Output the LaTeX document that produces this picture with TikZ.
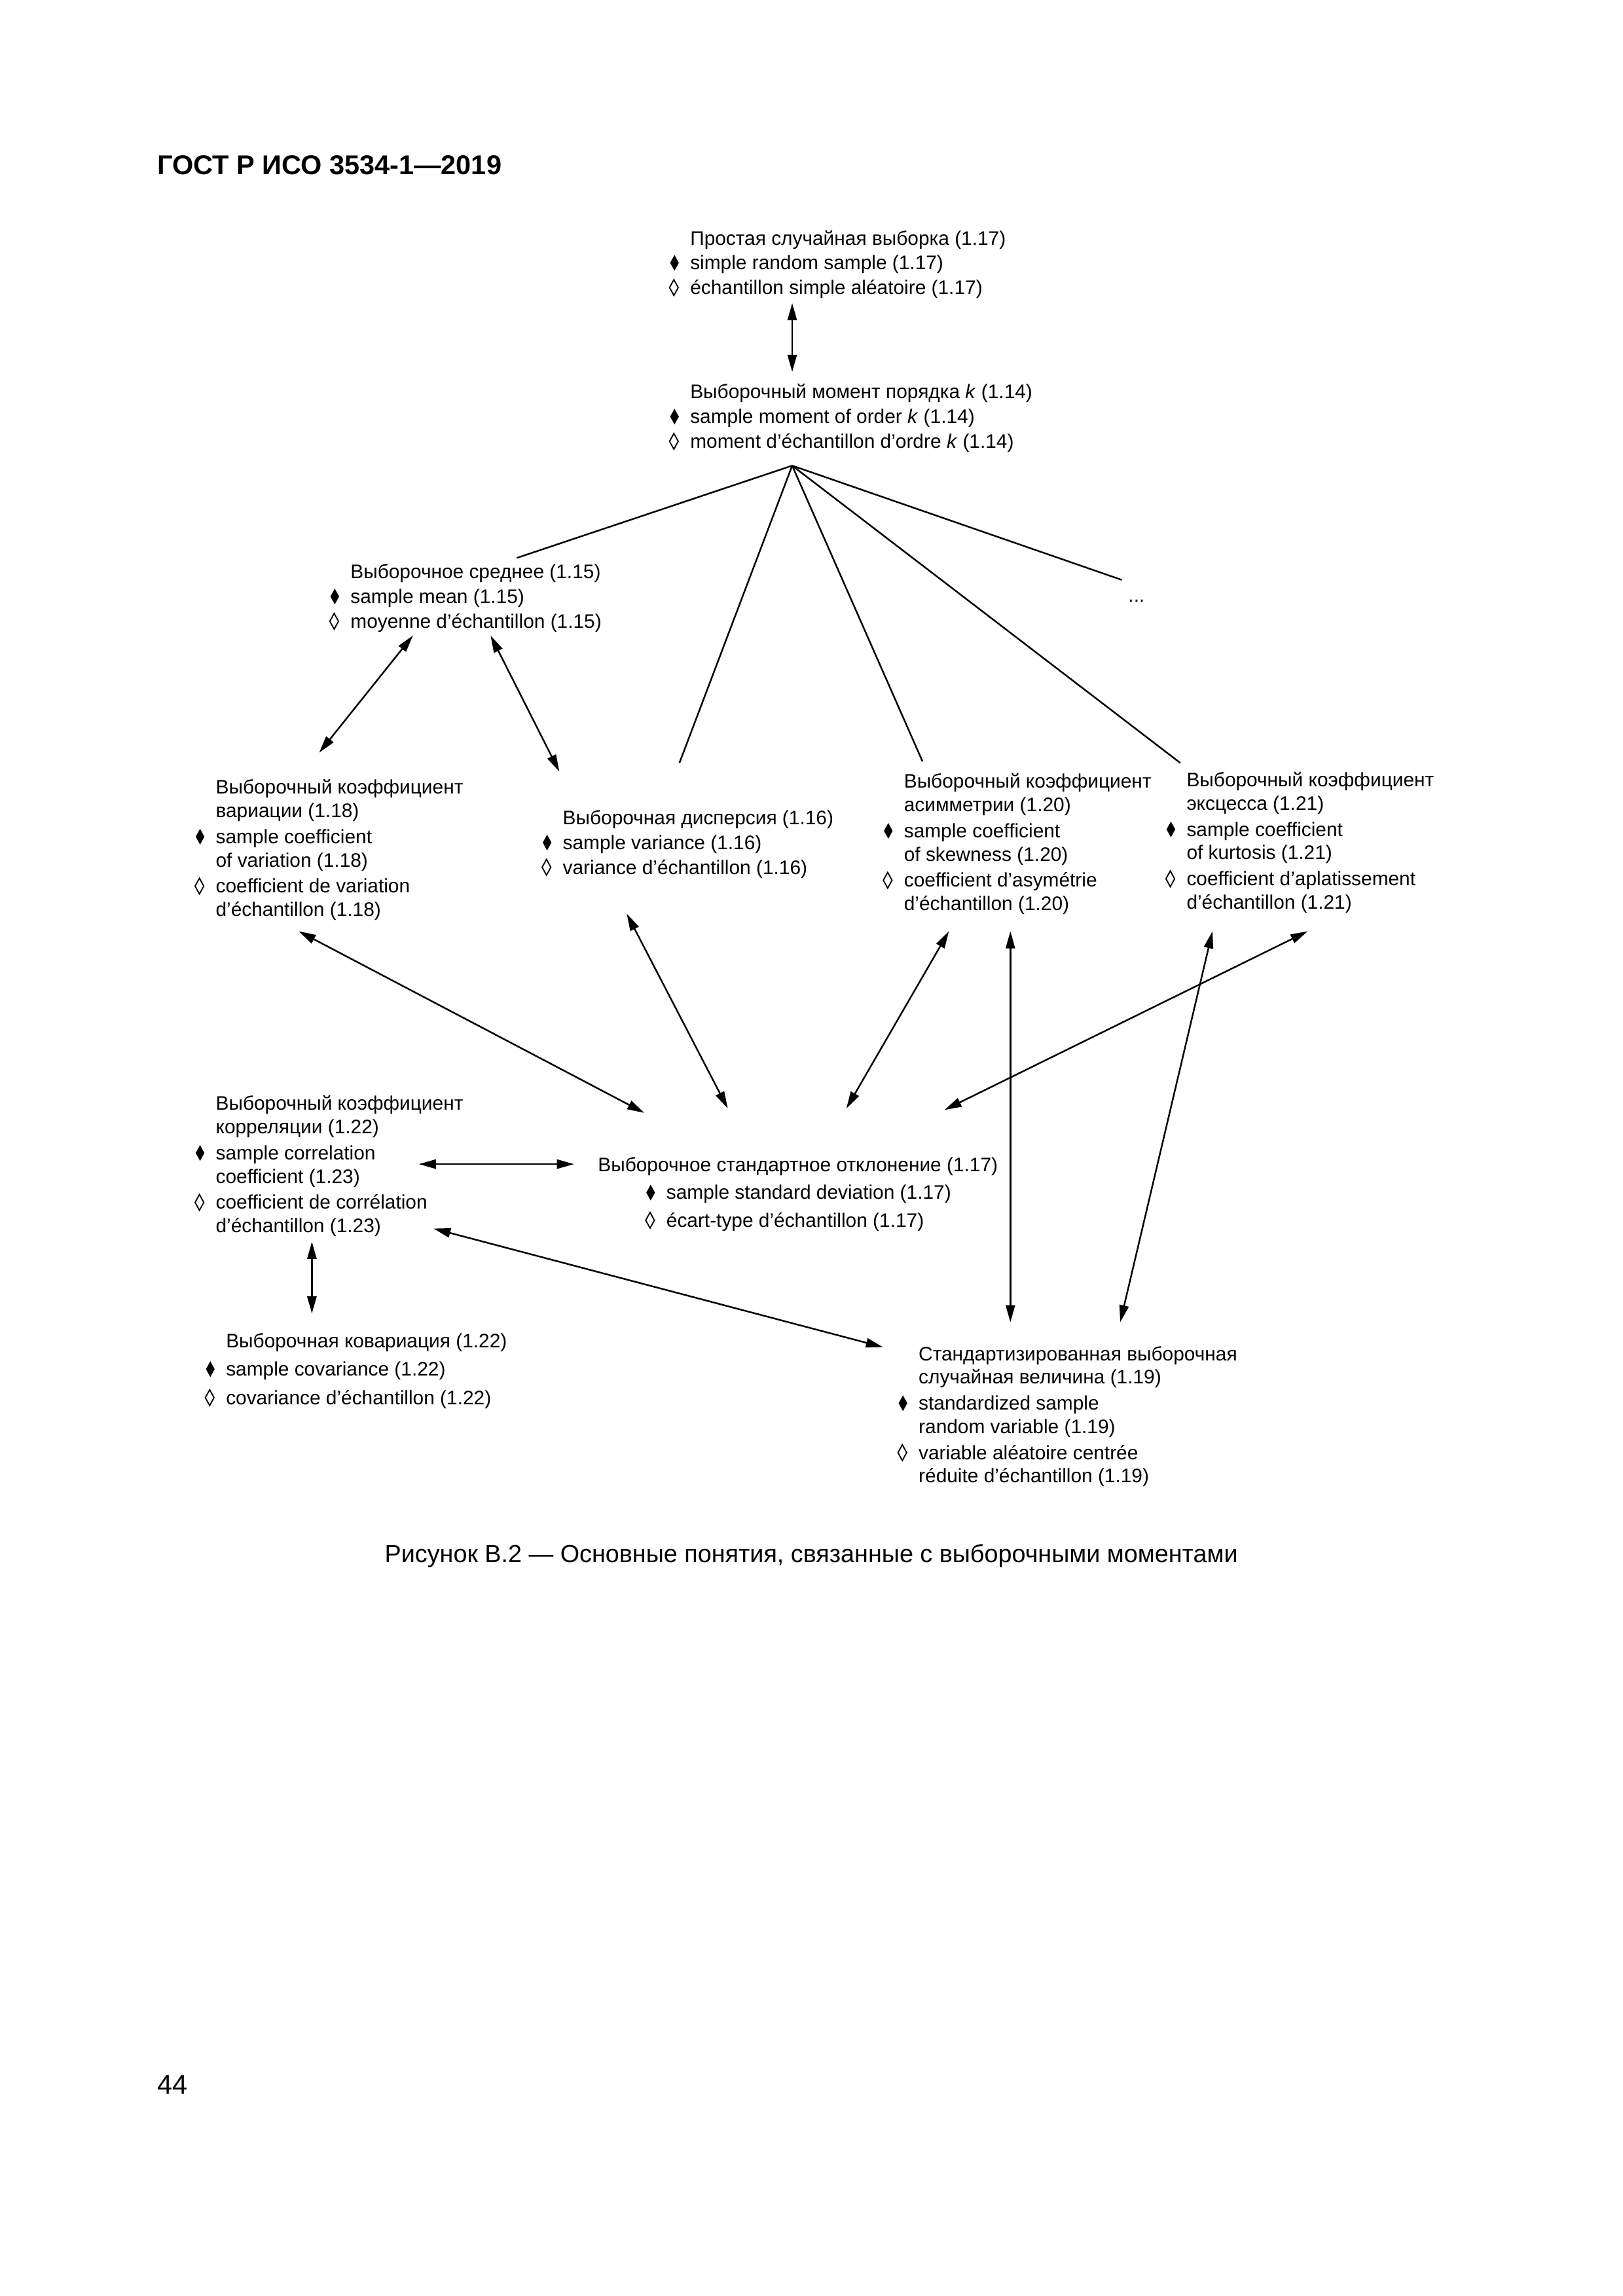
\documentclass[tikz,border=0pt]{standalone}
\usepackage{fontspec}
\setmainfont{Liberation Sans}
\usetikzlibrary{arrows.meta}
\newcommand\losnoir{\llap{\tikz[baseline=0pt]\fill (0pt,-.4pt)--(1.6pt,2.5pt)--(0pt,5.4pt)--(-1.6pt,2.5pt)--cycle;\hspace{4.2pt}}}
\newcommand\losblanc{\llap{\tikz[baseline=0pt]\draw[line width=.45pt] (0pt,-.4pt)--(1.6pt,2.5pt)--(0pt,5.4pt)--(-1.6pt,2.5pt)--cycle;\hspace{4.2pt}}}
\tikzset{terme/.style={anchor=north west, align=left, inner sep=0pt, font=\fontsize{7.2}{8.6}\selectfont},
  page/.style={inner sep=0pt, font=\fontsize{10}{12}\selectfont},
  >={Triangle[length=6.3pt,width=3.4pt]}}
\begin{document}
\begin{tikzpicture}[x=0.18953mm, y=-0.18953mm, line width=.6pt]
\useasboundingbox (0,0) rectangle (1108,1568);
\node[page, anchor=base west, font=\bfseries\fontsize{10}{12}\selectfont] (titre) at (107,119) {ГОСТ Р ИСО 3534-1—2019};
% Les notions (russe, anglais, francais)
\node[terme] (srs) at (471,157) {Простая случайная выборка (1.17)\\[.5pt]\losnoir simple random sample (1.17)\\[.5pt]\losblanc échantillon simple aléatoire (1.17)};
\node[terme] (mom) at (471,262) {Выборочный момент порядка \textit{k} (1.14)\\[.5pt]\losnoir sample moment of order \textit{k} (1.14)\\[.5pt]\losblanc moment d’échantillon d’ordre \textit{k} (1.14)};
\node[terme] (mean) at (239,385) {Выборочное среднее (1.15)\\[.5pt]\losnoir sample mean (1.15)\\[.5pt]\losblanc moyenne d’échantillon (1.15)};
\node[terme] (cv) at (147,532) {Выборочный коэффициент\\вариации (1.18)\\[1pt]\losnoir sample coefficient\\of variation (1.18)\\[1pt]\losblanc coefficient de variation\\d’échantillon (1.18)};
\node[terme] (var) at (384,553) {Выборочная дисперсия (1.16)\\[.5pt]\losnoir sample variance (1.16)\\[.5pt]\losblanc variance d’échantillon (1.16)};
\node[terme] (skew) at (617,528) {Выборочный коэффициент\\асимметрии (1.20)\\[1pt]\losnoir sample coefficient\\of skewness (1.20)\\[1pt]\losblanc coefficient d’asymétrie\\d’échantillon (1.20)};
\node[terme] (kurt) at (810,527) {Выборочный коэффициент\\эксцесса (1.21)\\[1pt]\losnoir sample coefficient\\of kurtosis (1.21)\\[1pt]\losblanc coefficient d’aplatissement\\d’échantillon (1.21)};
\node[terme, anchor=base west] (dots) at (770,411) {...};
\node[terme] (corr) at (147,748) {Выборочный коэффициент\\корреляции (1.22)\\[1pt]\losnoir sample correlation\\coefficient (1.23)\\[1pt]\losblanc coefficient de corrélation\\d’échantillon (1.23)};
\node[terme] (sd) at (408,790) {Выборочное стандартное отклонение (1.17)\\[1.6pt]\hspace*{25.2pt}\losnoir sample standard deviation (1.17)\\[1.6pt]\hspace*{25.2pt}\losblanc écart-type d’échantillon (1.17)};
\node[terme] (cov) at (154,910) {Выборочная ковариация (1.22)\\[1.9pt]\losnoir sample covariance (1.22)\\[1.9pt]\losblanc covariance d’échantillon (1.22)};
\node[terme] (stdz) at (627,919) {Стандартизированная выборочная\\случайная величина (1.19)\\[1pt]\losnoir standardized sample\\random variable (1.19)\\[1pt]\losblanc variable aléatoire centrée\\réduite d’échantillon (1.19)};
\coordinate (hub) at ([shift={(70,56)}]mom.north west);
\draw (hub) -- ([shift={(114,-4)}]mean.north west) (hub) -- ([shift={(80,-32)}]var.north west) (hub) -- ([shift={(13,-8)}]skew.north west);
\draw (hub) -- ([shift={(-4,-6)}]kurt.north west) (hub) -- ([shift={(-4,-15)}]dots.base west);
% Fleches doubles entre les notions
\draw[<->] ([shift={(70,50)}]srs.north west) -- ([shift={(70,-8)}]mom.north west);
\draw[<->] ([shift={(43,49)}]mean.north west) -- ([shift={(71,-18)}]cv.north west);
\draw[<->] ([shift={(96,49)}]mean.north west) -- ([shift={(-2,-26)}]var.north west);
\draw[<->] ([shift={(57,104)}]cv.north west) -- ([shift={(32,-30)}]sd.north west);
\draw[<->] ([shift={(44,71)}]var.north west) -- ([shift={(89,-33)}]sd.north west);
\draw[<->] ([shift={(31,108)}]skew.north west) -- ([shift={(170,-33)}]sd.north west);
\draw[<->] ([shift={(83,109)}]kurt.north west) -- ([shift={(237,-32)}]sd.north west);
\draw[<->] ([shift={(73,108)}]skew.north west) -- ([shift={(63,-16)}]stdz.north west);
\draw[<->] ([shift={(18,109)}]kurt.north west) -- ([shift={(138,-16)}]stdz.north west);
\draw[<->] ([shift={(139,47)}]corr.north west) -- ([shift={(-16,5)}]sd.north west);
\draw[<->] ([shift={(66,100)}]corr.north west) -- ([shift={(59,-13)}]cov.north west);
\draw[<->] ([shift={(149,91)}]corr.north west) -- ([shift={(-24,1)}]stdz.north west);
\node[page, anchor=base, font=\fontsize{9.1}{11}\selectfont] (leg) at (554,1067) {Рисунок В.2 — Основные понятия, связанные с выборочными моментами};
\node[page, anchor=base west] (num) at (107,1430) {44};
\end{tikzpicture}
\end{document}
